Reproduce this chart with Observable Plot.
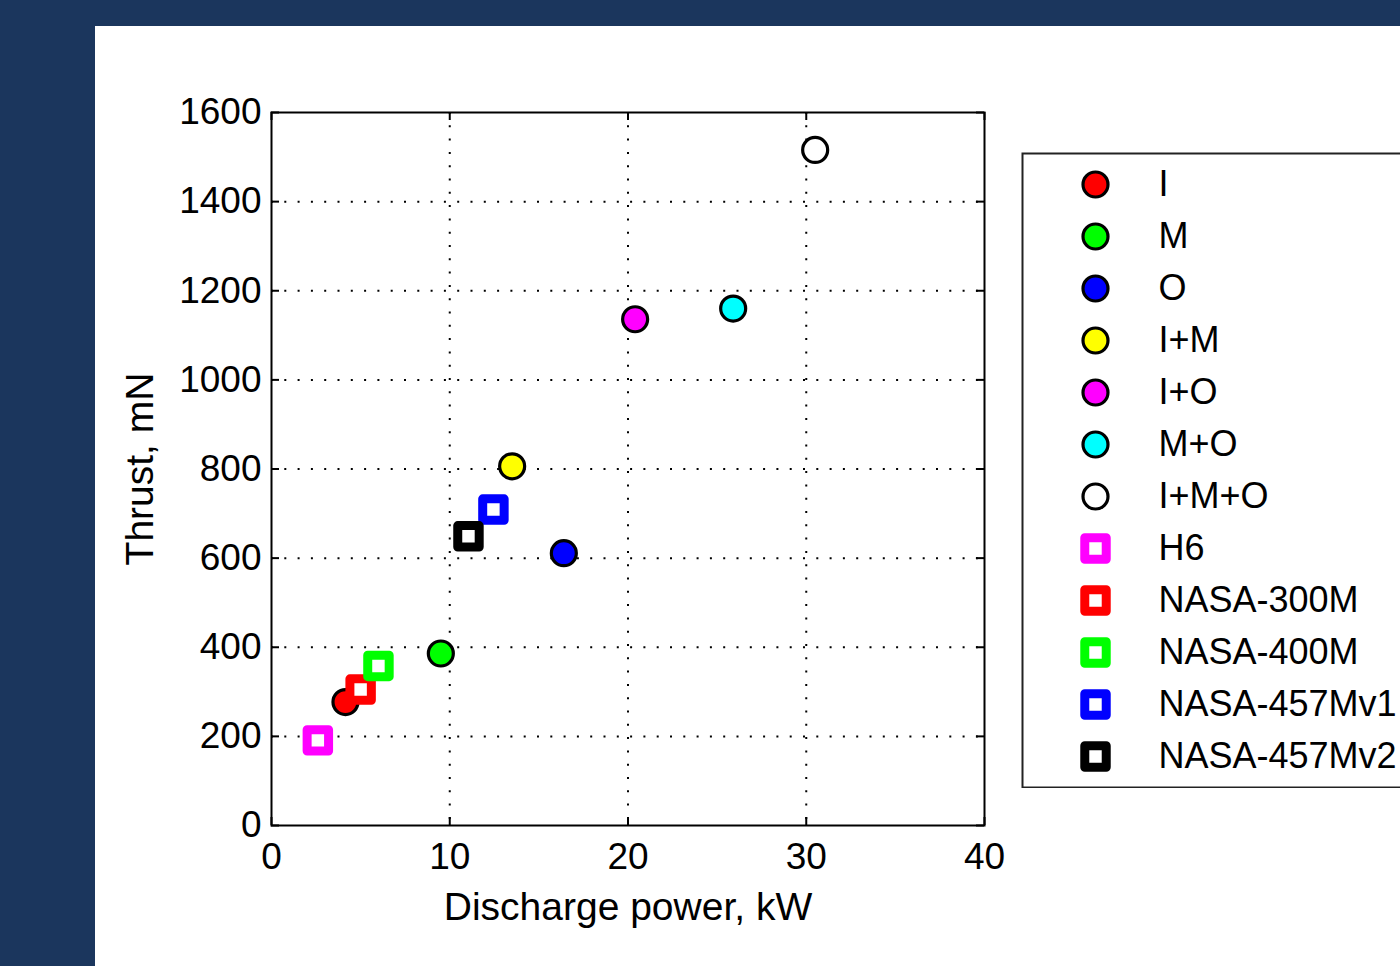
<!DOCTYPE html>
<html>
<head>
<meta charset="utf-8">
<script src="https://cdn.jsdelivr.net/npm/d3@7"></script>
<script src="https://cdn.jsdelivr.net/npm/@observablehq/plot@0.6"></script>
<style>
  html, body { margin: 0; padding: 0; }
  body { width: 1400px; height: 966px; overflow: hidden; background: #1b365d; position: relative; font-family: "Liberation Sans", Arial, sans-serif; }
  #panel { position: absolute; left: 95px; top: 26px; width: 1305px; height: 940px; background: #ffffff; overflow: hidden; }
  #chart { position: absolute; left: 0; top: 0; }
  #legend { position: absolute; left: 926px; top: 126px; width: 480px; }
  svg { max-width: none !important; }
</style>
</head>
<body>
<div id="panel">
  <div id="chart"></div>
  <div id="legend"></div>
</div>
<script>
// Circle series (propellant combinations)
const circleLabels = ["I", "M", "O", "I+M", "I+O", "M+O", "I+M+O"];
const circlePower  = [4.15, 9.5, 16.4, 13.5, 20.4, 25.9, 30.5];
const circleThrust = [277, 386, 611, 806, 1136, 1160, 1516];
const circleColors = ["#ff0000", "#00ff00", "#0000ff", "#ffff00", "#ff00ff", "#00ffff", "#ffffff"];

// Square series (reference thrusters)
const squareLabels = ["H6", "NASA-300M", "NASA-400M", "NASA-457Mv1", "NASA-457Mv2"];
const squarePower  = [2.6, 5.0, 6.0, 12.45, 11.05];
const squareThrust = [191, 305, 358, 709, 649];
const squareColors = ["#ff00ff", "#ff0000", "#00ff00", "#0000ff", "#000000"];

// Axes
const xTicks = [0, 10, 20, 30, 40];
const yTicks = [0, 200, 400, 600, 800, 1000, 1200, 1400, 1600];
const xGrid = [10, 20, 30];
const yGrid = [200, 400, 600, 800, 1000, 1200, 1400];
const xLabel = "Discharge power, kW";
const yLabel = "Thrust, mN";

const circles = circleLabels.map((name, i) => ({name, x: circlePower[i], y: circleThrust[i], color: circleColors[i]}));
const squares = squareLabels.map((name, i) => ({name, x: squarePower[i], y: squareThrust[i], color: squareColors[i]}));

const FONT = "'Liberation Sans', Arial, Helvetica, sans-serif";
const FS = 37;
const LFS = 39;
const LEGFS = 36;
const dotted = {stroke: "black", strokeWidth: 2, strokeDasharray: "2 11.3"};
const circleStyle = {r: 12.5, stroke: "black", strokeWidth: 3.2};
const squareStyle = {symbol: "square", r: 12.1, fill: "white", strokeWidth: 9, strokeLinejoin: "round"};

const chart = Plot.plot({
  width: 1305,
  height: 940,
  marginLeft: 176,
  marginRight: 416,
  marginTop: 86,
  marginBottom: 141,
  style: {fontFamily: FONT, fontSize: FS + "px", background: "white", color: "black", maxWidth: "none"},
  x: {domain: [0, 40]},
  y: {domain: [0, 1600]},
  marks: [
    Plot.ruleX(xGrid, dotted),
    Plot.ruleY(yGrid, dotted),
    Plot.tickX(xTicks, {x: d => d, stroke: "black", strokeWidth: 2, insetTop: 705}),
    Plot.tickX(xTicks, {x: d => d, stroke: "black", strokeWidth: 2, insetBottom: 705}),
    Plot.tickY(yTicks, {y: d => d, stroke: "black", strokeWidth: 2, insetRight: 705}),
    Plot.tickY(yTicks, {y: d => d, stroke: "black", strokeWidth: 2, insetLeft: 705}),
    Plot.frame({stroke: "black", strokeWidth: 2}),
    Plot.axisX({ticks: xTicks, tickSize: 0, tickPadding: 17, fontSize: FS, label: null, tickFormat: d => String(d)}),
    Plot.axisY({ticks: yTicks, tickSize: 0, tickPadding: 10, fontSize: FS, label: null, tickFormat: d => String(d)}),
    Plot.text([xLabel], {frameAnchor: "bottom", dy: 82, lineAnchor: "middle", textAnchor: "middle", fontSize: LFS, fill: "black"}),
    Plot.text([yLabel], {frameAnchor: "left", dx: -131, rotate: -90, lineAnchor: "middle", textAnchor: "middle", fontSize: LFS, fill: "black"}),
    Plot.dot(circles, {x: "x", y: "y", fill: "color", ...circleStyle}),
    Plot.dot(squares, {x: "x", y: "y", stroke: "color", ...squareStyle})
  ]
});
document.getElementById("chart").appendChild(chart);

// Legend
const legendNames = circleLabels.concat(squareLabels);
const legendCircles = circleLabels.map((name, i) => ({name, color: circleColors[i]}));
const legendSquares = squareLabels.map((name, i) => ({name, color: squareColors[i]}));
const legend = Plot.plot({
  width: 480,
  height: 636,
  marginLeft: 1, marginRight: 1, marginTop: 1, marginBottom: 1,
  style: {fontFamily: FONT, fontSize: LEGFS + "px", background: "white", color: "black", maxWidth: "none"},
  y: {type: "point", domain: legendNames, range: [31, 604], padding: 0, axis: null},
  marks: [
    Plot.frame({stroke: "#222", strokeWidth: 2}),
    Plot.dot(legendCircles, {y: "name", frameAnchor: "left", dx: 73, fill: "color", ...circleStyle}),
    Plot.dot(legendSquares, {y: "name", frameAnchor: "left", dx: 73, stroke: "color", ...squareStyle}),
    Plot.text(legendNames, {y: d => d, text: d => d, frameAnchor: "left", dx: 136, textAnchor: "start", fontSize: LEGFS, fill: "black"})
  ]
});
document.getElementById("legend").appendChild(legend);
</script>
</body>
</html>
